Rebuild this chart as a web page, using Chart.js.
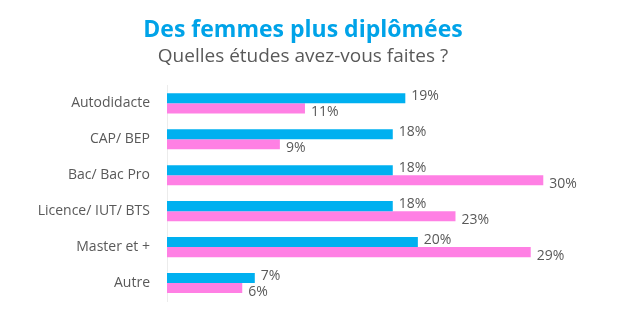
<!DOCTYPE html>
<html lang="fr">
<head>
  <meta charset="UTF-8" />
  <title>Des femmes plus diplômées</title>
  <script src="https://cdn.jsdelivr.net/npm/chart.js"></script>
  <style>
    html, body {
      margin: 0;
      padding: 0;
      background: #ffffff;
    }
    .chart-box {
      width: 620px;
      height: 328px;
    }
  </style>
</head>
<body>
  <div class="chart-box">
    <canvas id="etudesChart" width="620" height="328"></canvas>
  </div>

  <script>
    // Données
    const categories = ['Autodidacte', 'CAP/ BEP', 'Bac/ Bac Pro', 'Licence/ IUT/ BTS', 'Master et +', 'Autre'];
    const hommes = [19, 18, 18, 18, 20, 7];
    const femmes = [11, 9, 30, 23, 29, 6];

    // Étiquettes de valeur à droite des barres
    const valueLabels = {
      id: 'valueLabels',
      afterDatasetsDraw(chart) {
        const ctx = chart.ctx;
        ctx.save();
        ctx.font = '14px "Open Sans"';
        ctx.fillStyle = '#595959';
        ctx.textAlign = 'left';
        ctx.textBaseline = 'middle';
        chart.data.datasets.forEach((ds, i) => {
          const meta = chart.getDatasetMeta(i);
          meta.data.forEach((bar, j) => {
            const dy = i === 0 ? -2 : 4;
            ctx.fillText(ds.data[j] + '%', bar.x + 6, bar.y + dy);
          });
        });
        ctx.restore();
      }
    };

    const ctx = document.getElementById('etudesChart').getContext('2d');

    new Chart(ctx, {
      type: 'bar',
      data: {
        labels: categories,
        datasets: [
          {
            label: 'Hommes',
            data: hommes,
            backgroundColor: '#00b0f0',
            categoryPercentage: 0.56,
            barPercentage: 1.0
          },
          {
            label: 'Femmes',
            data: femmes,
            backgroundColor: '#ff80e4',
            categoryPercentage: 0.56,
            barPercentage: 1.0
          }
        ]
      },
      options: {
        indexAxis: 'y',
        responsive: false,
        animation: false,
        layout: {
          padding: { left: 0, right: 14, bottom: 27, top: 0 }
        },
        plugins: {
          legend: { display: false },
          tooltip: { enabled: false },
          title: {
            display: true,
            text: 'Des femmes plus diplômées',
            color: '#00a3e8',
            font: { family: '"Open Sans"', size: 23, weight: 'bold' },
            padding: { top: 17, bottom: 1 }
          },
          subtitle: {
            display: true,
            text: 'Quelles études avez-vous faites ?',
            color: '#595959',
            font: { family: '"Open Sans"', size: 19 },
            padding: { top: 0, bottom: 17 }
          }
        },
        scales: {
          x: {
            display: false,
            min: 0,
            max: 35
          },
          y: {
            grid: { display: false, drawTicks: false },
            border: { display: true, color: '#ececec' },
            ticks: {
              color: '#595959',
              font: { family: '"Open Sans"', size: 14 },
              padding: 17
            },
            afterFit(scale) {
              scale.width = 167;
            }
          }
        }
      },
      plugins: [valueLabels]
    });
  </script>
</body>
</html>
